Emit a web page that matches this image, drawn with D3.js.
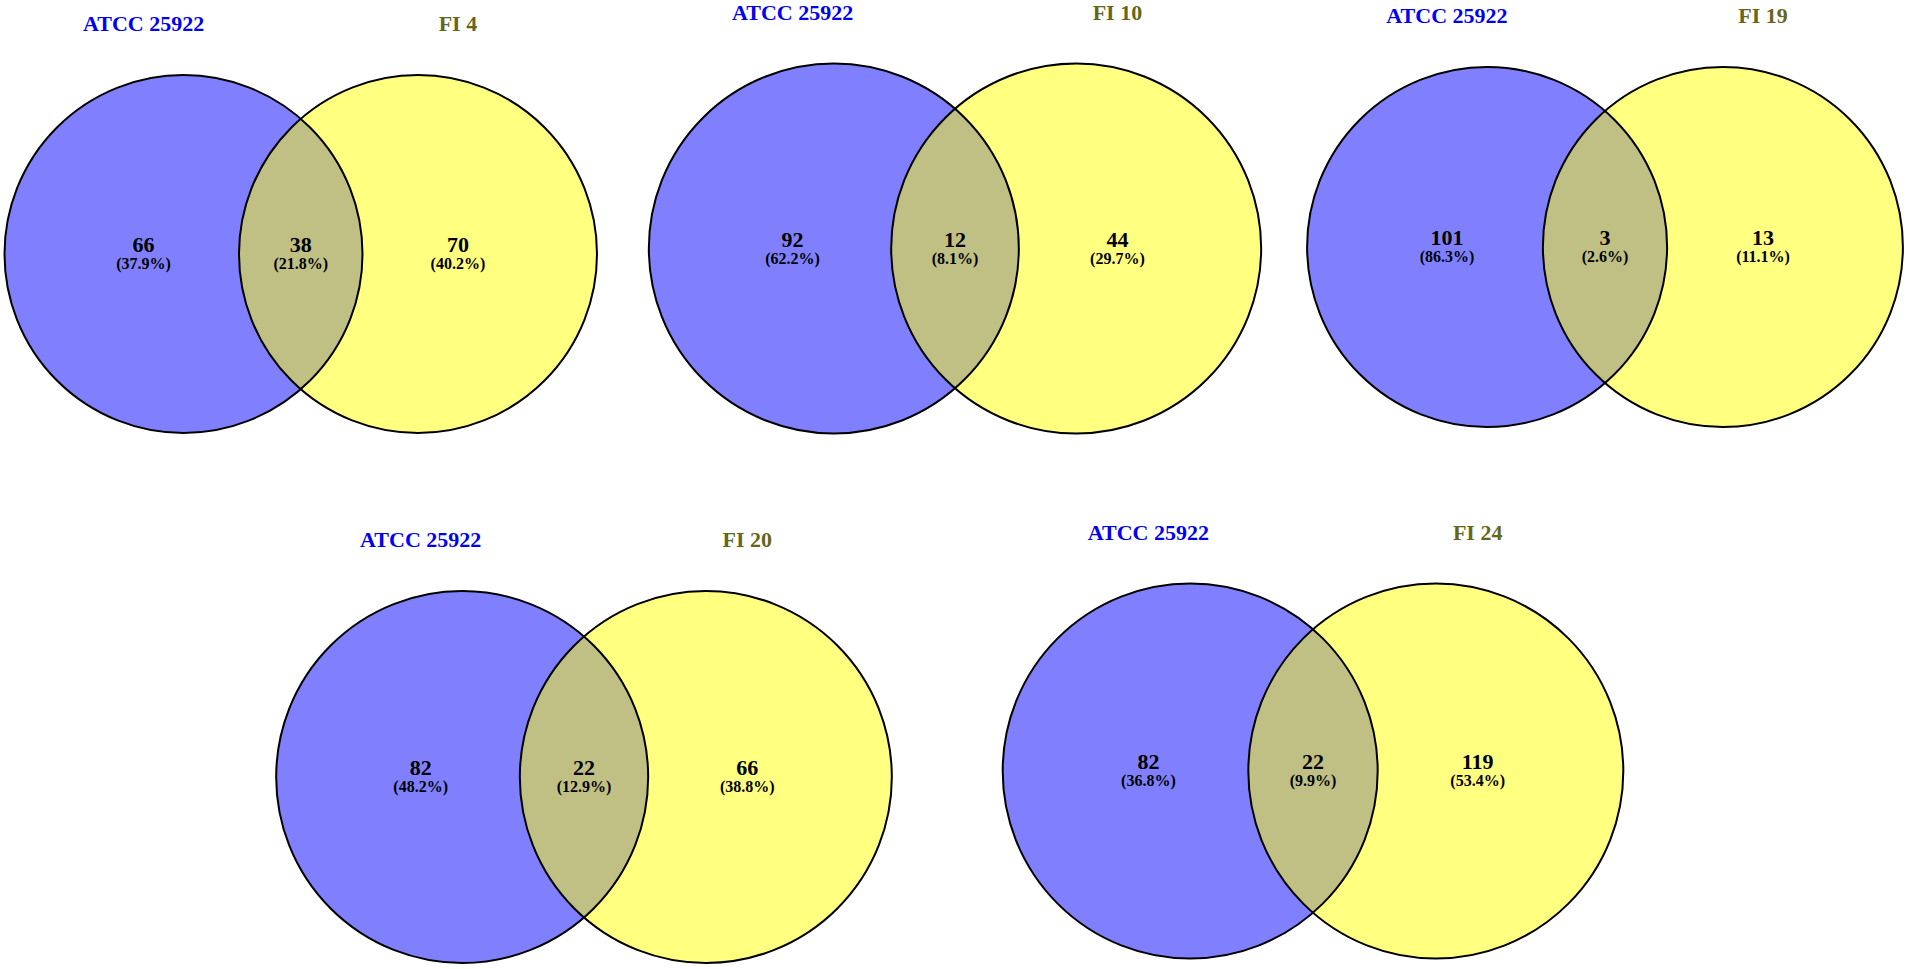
<!DOCTYPE html>
<html>
<head>
<meta charset="utf-8">
<script src="https://cdn.jsdelivr.net/npm/d3@7/dist/d3.min.js"></script>
<style>
  html, body { margin: 0; padding: 0; background: #fff; }
  svg { display: block; }
</style>
</head>
<body>
<svg id="chart" width="1908" height="969"></svg>
<script>
// ---- data ----
const leftNames   = ["ATCC 25922", "ATCC 25922", "ATCC 25922", "ATCC 25922", "ATCC 25922"];
const rightNames  = ["FI 4", "FI 10", "FI 19", "FI 20", "FI 24"];
const leftOnly    = [66, 92, 101, 82, 82];
const shared      = [38, 12, 3, 22, 22];
const rightOnly   = [70, 44, 13, 66, 119];
const leftPct     = ["37.9%", "62.2%", "86.3%", "48.2%", "36.8%"];
const sharedPct   = ["21.8%", "8.1%", "2.6%", "12.9%", "9.9%"];
const rightPct    = ["40.2%", "29.7%", "11.1%", "38.8%", "53.4%"];

// ---- layout (panel placement, not data) ----
const panelCx = [300.75, 955, 1605, 584, 1313];
const panelCy = [254, 248.5, 247, 777, 771];
const panelR  = [179, 185, 180, 186, 187.5];

// unit geometry of one pairwise diagram (circle radius = 1)
const HALF_D = 0.655;      // half distance between centres
const LABEL_X = 0.878;     // outer labels / titles x
const colors = { left: "#8080ff", right: "#ffff80", both: "#c0c084" };
const titleColors = { left: "#0000f0", right: "#66661a" };
const FONT = "'Liberation Serif', 'Times New Roman', serif";

const svg = d3.select("#chart");
const defs = svg.append("defs");

const panels = leftNames.map((n, i) => ({
  i,
  leftName: n, rightName: rightNames[i],
  counts: [leftOnly[i], shared[i], rightOnly[i]],
  pcts: [leftPct[i], sharedPct[i], rightPct[i]],
  cx: panelCx[i], cy: panelCy[i], R: panelR[i]
}));

panels.forEach(p => {
  const x = d3.scaleLinear().domain([-1, 1]).range([p.cx - p.R, p.cx + p.R]);
  const y = d3.scaleLinear().domain([-1, 1]).range([p.cy - p.R, p.cy + p.R]);
  const rpx = x(1) - x(0);
  const g = svg.append("g").attr("class", "venn");

  const sets = [
    { key: "left",  ux: -HALF_D },
    { key: "right", ux:  HALF_D }
  ];

  const clipId = "clipL" + p.i;
  defs.append("clipPath").attr("id", clipId)
    .append("circle").attr("cx", x(-HALF_D)).attr("cy", y(0)).attr("r", rpx);

  g.selectAll("circle.fill").data(sets).join("circle")
    .attr("class", "fill")
    .attr("cx", d => x(d.ux)).attr("cy", y(0)).attr("r", rpx)
    .attr("fill", d => colors[d.key]);

  g.append("circle")
    .attr("cx", x(HALF_D)).attr("cy", y(0)).attr("r", rpx)
    .attr("fill", colors.both)
    .attr("clip-path", `url(#${clipId})`);

  g.selectAll("circle.edge").data(sets).join("circle")
    .attr("class", "edge")
    .attr("cx", d => x(d.ux)).attr("cy", y(0)).attr("r", rpx)
    .attr("fill", "none").attr("stroke", "#000").attr("stroke-width", 2);

  const titles = [
    { t: p.leftName,  ux: -LABEL_X, c: titleColors.left },
    { t: p.rightName, ux:  LABEL_X, c: titleColors.right }
  ];
  g.selectAll("text.title").data(titles).join("text")
    .attr("class", "title")
    .attr("x", d => x(d.ux))
    .attr("y", y(-1) - 44)
    .attr("text-anchor", "middle")
    .attr("font-family", FONT)
    .attr("font-weight", "bold")
    .attr("font-size", 22)
    .attr("fill", d => d.c)
    .text(d => d.t);

  const regions = [
    { n: p.counts[0], pc: p.pcts[0], ux: -LABEL_X },
    { n: p.counts[1], pc: p.pcts[1], ux: 0 },
    { n: p.counts[2], pc: p.pcts[2], ux:  LABEL_X }
  ];
  g.selectAll("text.num").data(regions).join("text")
    .attr("class", "num")
    .attr("x", d => x(d.ux))
    .attr("y", y(0) - 2)
    .attr("text-anchor", "middle")
    .attr("font-family", FONT)
    .attr("font-weight", "bold")
    .attr("font-size", 22)
    .attr("fill", "#000")
    .text(d => d.n);
  g.selectAll("text.pct").data(regions).join("text")
    .attr("class", "pct")
    .attr("x", d => x(d.ux))
    .attr("y", y(0) + 15)
    .attr("text-anchor", "middle")
    .attr("font-family", FONT)
    .attr("font-weight", "bold")
    .attr("font-size", 16)
    .attr("fill", "#000")
    .text(d => "(" + d.pc + ")");
});
</script>
</body>
</html>
